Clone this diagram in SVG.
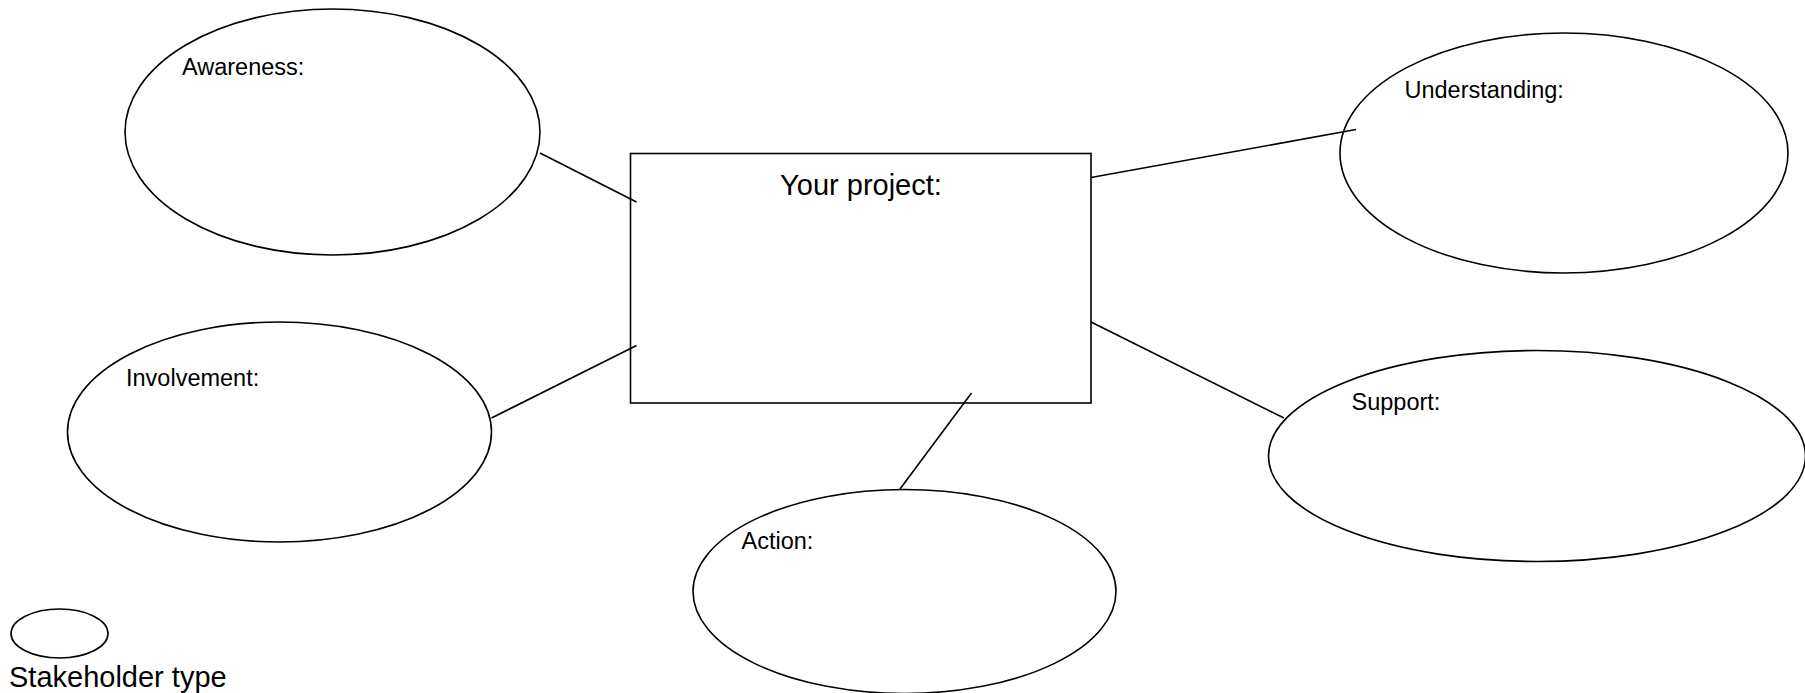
<svg xmlns="http://www.w3.org/2000/svg" width="1805" height="693" viewBox="0 0 1805 693">
<style>
.shape{fill:#fff;stroke:#000;stroke-width:1.6}
.conn{stroke:#000;stroke-width:1.6;fill:none}
.lbl{font-family:"Liberation Sans",Arial,sans-serif;font-size:23.5px;fill:#000}
.big{font-family:"Liberation Sans",Arial,sans-serif;font-size:29px;fill:#000}
</style>
<rect width="1805" height="693" fill="#fff"/>
<g id="connectors">
<line class="conn" x1="540" y1="153" x2="636.5" y2="202"/>
<line class="conn" x1="491.5" y1="418" x2="636.5" y2="345.5"/>
<line class="conn" x1="1091" y1="177.5" x2="1356" y2="129.5"/>
<line class="conn" x1="1091" y1="322" x2="1284" y2="418"/>
<line class="conn" x1="971.5" y1="393" x2="900" y2="489"/>
</g>
<g id="awareness">
<ellipse class="shape" cx="332.5" cy="132" rx="207.5" ry="123"/>
<text class="lbl" x="182" y="75">Awareness:</text>
</g>
<g id="project">
<rect class="shape" x="630.5" y="153.5" width="460.5" height="249.5" style="fill:none"/>
<text class="big" x="861" y="195" text-anchor="middle">Your project:</text>
</g>
<g id="understanding">
<ellipse class="shape" cx="1564" cy="153" rx="224" ry="120" style="fill:none"/>
<text class="lbl" x="1404.5" y="98">Understanding:</text>
</g>
<g id="involvement">
<ellipse class="shape" cx="279.5" cy="432" rx="212" ry="110"/>
<text class="lbl" x="126" y="386">Involvement:</text>
</g>
<g id="support">
<ellipse class="shape" cx="1537" cy="456" rx="268.5" ry="105.5" style="fill:none"/>
<text class="lbl" x="1351.5" y="410">Support:</text>
</g>
<g id="action">
<ellipse class="shape" cx="904.5" cy="591.5" rx="211.5" ry="102"/>
<text class="lbl" x="741.5" y="549">Action:</text>
</g>
<g id="legend">
<ellipse class="shape" cx="59.5" cy="633.5" rx="48.5" ry="24.5"/>
<text class="big" x="9" y="686.5">Stakeholder type</text>
</g>
</svg>
